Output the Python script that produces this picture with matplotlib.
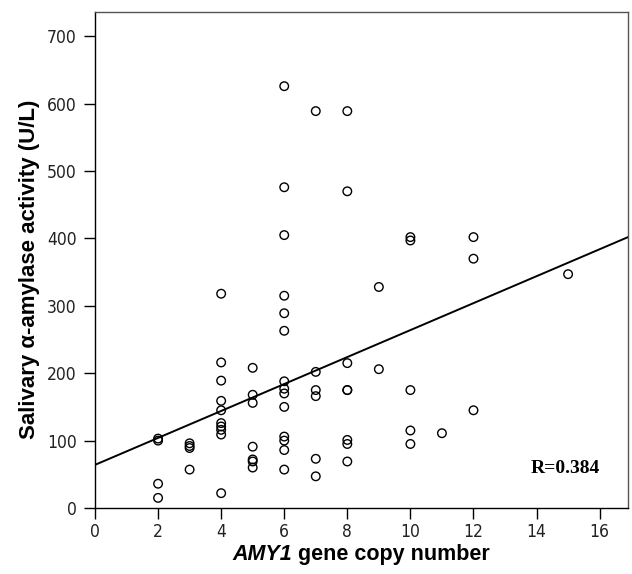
# Salivary amylase activity vs AMY1 copy number, scatter with fitted line
import matplotlib
matplotlib.use('Agg')
import matplotlib.pyplot as plt
import numpy as np

# values
copy_number = [2, 2, 2, 2,
               3, 3, 3, 3,
               4, 4, 4, 4, 4, 4, 4, 4, 4, 4,
               5, 5, 5, 5, 5, 5, 5,
               6, 6, 6, 6, 6, 6, 6, 6, 6, 6, 6, 6, 6, 6,
               7, 7, 7, 7, 7, 7,
               8, 8, 8, 8, 8, 8, 8, 8,
               9, 9,
               10, 10, 10, 10, 10,
               11,
               12, 12, 12,
               15]
activity = [103, 100, 36, 15,
            96, 92, 89, 57,
            318, 216, 189, 159, 145, 126, 121, 116, 109, 22,
            208, 168, 156, 91, 72, 69, 60,
            626, 476, 405, 315, 289, 263, 188, 177, 170, 150, 106, 100, 86, 57,
            589, 202, 175, 166, 73, 47,
            589, 470, 215, 175, 175, 101, 95, 69,
            328, 206,
            402, 397, 175, 115, 95,
            111,
            402, 370, 145,
            347]

# fitted line
fit_intercept = 64
fit_slope = 20
r_text = 'R=0.384'

x_ticks = [0, 2, 4, 6, 8, 10, 12, 14, 16]
y_ticks = [0, 100, 200, 300, 400, 500, 600, 700]

fig = plt.figure(figsize=(6.32, 5.74), dpi=100)
ax = fig.add_axes([0.1503, 0.115, 0.8434, 0.864])

ax.scatter(copy_number, activity, s=38, facecolors='none',
           edgecolors='black', linewidths=1.0, zorder=3)

xs = np.array([0, 16.9])
ax.plot(xs, fit_intercept + fit_slope * xs, color='black', lw=1.4)

ax.set_xlim(0, 16.9)
ax.set_ylim(0, 736)
ax.set_xticks(x_ticks)
ax.set_yticks(y_ticks)
ax.tick_params(direction='out', length=8, width=1, labelsize=12.5)
ax.tick_params(axis='x', pad=3)
ax.tick_params(axis='y', pad=5)
for lab in ax.get_xticklabels() + ax.get_yticklabels():
    lab.set_family('DejaVu Sans')
    lab.set_stretch('condensed')
    lab.set_color('#222222')

for side in ['top', 'right']:
    ax.spines[side].set_color('#555555')
for side in ax.spines:
    ax.spines[side].set_linewidth(1.0)

fig.text(0.047, 0.53, 'Salivary \u03b1-amylase activity (U/L)', fontsize=16,
         fontweight='bold', family='Liberation Sans', rotation=90,
         ha='center', va='center')

# x label: italic gene name followed by plain bold text
t1 = fig.text(0.367, 0.024, 'AMY1', fontsize=15.5, fontweight='bold',
              fontstyle='italic', family='Liberation Sans', ha='left')
ax.annotate(' gene copy number', xy=(1, 0), xycoords=t1, va='bottom',
            fontsize=15.5, fontweight='bold', family='Liberation Sans')

ax.text(13.8, 58, r_text, fontsize=14, fontweight='bold',
        family='Liberation Serif', va='center')

fig.savefig('out.png', dpi=100)
